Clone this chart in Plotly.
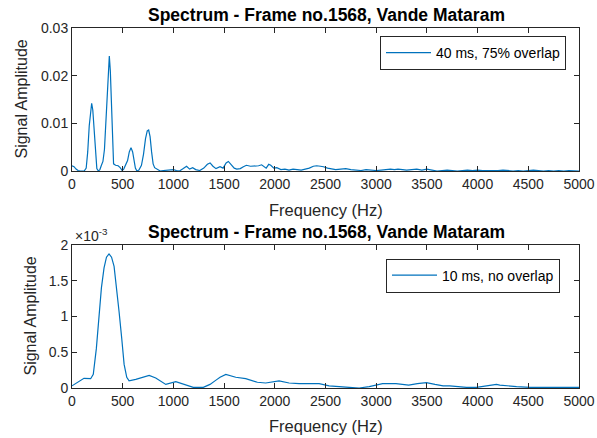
import plotly.graph_objects as go

# ---- data: top panel (40 ms, 75% overlap) ----
freq_top = [0, 20, 40, 60, 80, 100, 120, 140, 155, 170, 185, 194, 205, 218, 232, 245, 260, 275, 290, 305,
            320, 335, 350, 362, 368, 378, 390, 400, 410, 430, 455, 475, 495, 510, 530, 548, 565, 582, 598, 612,
            625, 640, 660, 685, 705, 725, 742, 756, 770, 785, 800, 815, 835, 850, 870, 900, 950, 1000, 1030, 1060,
            1090, 1130, 1160, 1190, 1220, 1260, 1300, 1335, 1362, 1390, 1420, 1460, 1490, 1520, 1542, 1570, 1600, 1625, 1660, 1690,
            1720, 1760, 1800, 1840, 1870, 1900, 1915, 1940, 1960, 1990, 2020, 2060, 2100, 2140, 2180, 2220, 2260, 2300, 2340, 2380,
            2413, 2450, 2480, 2520, 2560, 2600, 2650, 2700, 2750, 2800, 2850, 2900, 2950, 3000, 3050, 3100, 3140, 3180, 3215, 3260,
            3300, 3350, 3400, 3450, 3500, 3550, 3600, 3650, 3700, 3750, 3800, 3850, 3900, 3950, 4000, 4050, 4100, 4150, 4200, 4250,
            4300, 4350, 4400, 4450, 4500, 4550, 4600, 4650, 4700, 4750, 4800, 4850, 4900, 4950, 5000]
amp_top = [0.0011, 0.0009, 0.0004, 0.0001, 0.0, 0.0, 0.0, 0.0006, 0.004, 0.0095, 0.0135, 0.0142, 0.0128, 0.008, 0.003, 0.0005, 0.0, 0.0003, 0.0012, 0.002,
           0.0045, 0.011, 0.019, 0.0235, 0.0241, 0.021, 0.012, 0.0045, 0.0015, 0.0012, 0.0011, 0.0007, 0.0001, 0.0004, 0.0013, 0.0022, 0.0040, 0.0049, 0.0040, 0.002,
           0.0006, 0.0, 0.0002, 0.0012, 0.0035, 0.0068, 0.0084, 0.0086, 0.0072, 0.004, 0.0015, 0.0007, 0.0005, 0.0002, 0.0, 0.0001, 0.0002, 0.0003, 0.0001, 0.0,
           0.0004, 0.001, 0.0004, 0.0007, 0.0003, 0.0001, 0.0006, 0.0014, 0.0017, 0.001, 0.0005, 0.0009, 0.0006, 0.0017, 0.002, 0.0014, 0.0006, 0.0004, 0.0005, 0.0009,
           0.0012, 0.001, 0.001, 0.0011, 0.0013, 0.0008, 0.0006, 0.0014, 0.0012, 0.0006, 0.0007, 0.0003, 0.0004, 0.0002, 0.0004, 0.0003, 0.0002, 0.0004, 0.0006, 0.001,
           0.0011, 0.001, 0.0009, 0.0006, 0.0004, 0.0003, 0.0004, 0.0005, 0.0003, 0.0002, 0.0001, 0.0003, 0.0002, 0.0001, 0.0002, 0.0003, 0.0004, 0.0003, 0.0004, 0.0003,
           0.0002, 0.0003, 0.0004, 0.0002, 0.0004, 0.0002, 0.0, 0.0001, 0.0002, 0.0001, 0.0, 0.0001, 0.0002, 0.0001, 0.0002, 0.0001, 0.0001, 0.0, 0.0001, 0.0002,
           0.0001, 0.0, 0.0001, 0.0, 0.0001, 0.0002, 0.0001, 0.0, 0.0001, 0.0, 0.0001, 0.0, 0.0001, 0.0, 0.0]

# ---- data: bottom panel (10 ms, no overlap) ----
freq_bot = [0, 60, 118, 184, 210, 240, 267, 290, 316, 340, 365, 390, 415, 440, 464, 490, 514, 540, 563, 629,
            700, 761, 826, 925, 1024, 1107, 1196, 1295, 1361, 1420, 1460, 1517, 1615, 1713, 1828, 1910, 1959, 2042, 2141, 2240,
            2437, 2536, 2733, 2832, 2931, 3063, 3195, 3294, 3320, 3406, 3495, 3580, 3660, 3725, 3791, 3890, 3989, 4100, 4186, 4219,
            4351, 4384, 4516, 4549, 4650, 4780, 4812, 4900, 5000]
amp_bot = [0.00003, 0.00008, 0.000135, 0.00013, 0.00019, 0.00055, 0.00107, 0.0014, 0.00168, 0.00183, 0.001875, 0.00183, 0.0017, 0.0014, 0.00107, 0.0007, 0.00033, 0.00015, 0.0001, 0.00012,
            0.00015, 0.000177, 0.00014, 0.00005, 0.00009, 0.00005, 0.00001, 0.00001, 0.00005, 0.00011, 0.00015, 0.00019, 0.00015, 0.00013, 0.00008, 0.00007, 0.00008, 0.0001, 0.00007, 0.00006,
            0.00006, 0.00003, 0.00001, 0.0, 0.00002, 0.00006, 0.00006, 0.00005, 0.00004, 0.00006, 0.000075, 0.00005, 0.00003, 0.00003, 0.00002, 0.00001, 0.00001, 0.00003, 0.00005, 0.00004,
            0.00002, 0.00002, 0.00001, 0.00001, 0.00001, 0.00001, 0.00001, 0.00001, 0.00001]

x_ticks = [0, 500, 1000, 1500, 2000, 2500, 3000, 3500, 4000, 4500, 5000]
y_ticks_top = [0, 0.01, 0.02, 0.03]
y_ticks_bot = [0, 0.0005, 0.001, 0.0015, 0.002]
y_ticktext_bot = ["0", "0.5", "1", "1.5", "2"]

title_text = "Spectrum - Frame no.1568, Vande Mataram"
xlabel = "Frequency (Hz)"
ylabel = "Signal Amplitude"

W, H = 597, 438
LINE = "#0072BD"
AX = "#262626"
FONT = "Liberation Sans, Arial, sans-serif"

def px(x):
    return x / W

def py(y):
    return 1 - y / H

fig = go.Figure()
fig.add_trace(go.Scatter(x=freq_top, y=amp_top, mode="lines", name="40 ms, 75% overlap",
                         line=dict(color=LINE, width=1.2), xaxis="x", yaxis="y", legend="legend"))
fig.add_trace(go.Scatter(x=freq_bot, y=amp_bot, mode="lines", name="10 ms, no overlap",
                         line=dict(color=LINE, width=1.2), xaxis="x2", yaxis="y2", legend="legend2"))

axis_common = dict(showline=True, mirror="ticks", linecolor=AX, linewidth=1, ticks="inside",
                   ticklen=5, tickcolor=AX, tickwidth=1, showgrid=False, zeroline=False,
                   automargin=False, tickfont=dict(family=FONT, size=14, color=AX))

leg_common = dict(xanchor="left", yanchor="top", bordercolor=AX, borderwidth=1, bgcolor="white",
                  itemwidth=45, tracegroupgap=0, font=dict(family=FONT, size=14, color="black"))

fig.update_layout(
    width=W, height=H, margin=dict(l=0, r=0, t=0, b=0, autoexpand=False),
    paper_bgcolor="white", plot_bgcolor="white",
    xaxis=dict(domain=[px(72), px(579)], anchor="y", range=[0, 5000], tickvals=x_ticks, **axis_common),
    yaxis=dict(domain=[py(171), py(28)], anchor="x", range=[0, 0.03], tickvals=y_ticks_top, **axis_common),
    xaxis2=dict(domain=[px(72), px(579)], anchor="y2", range=[0, 5000], tickvals=x_ticks, **axis_common),
    yaxis2=dict(domain=[py(388), py(245)], anchor="x2", range=[0, 0.002], tickvals=y_ticks_bot,
                ticktext=y_ticktext_bot, **axis_common),
    legend=dict(x=px(380), y=py(36), **leg_common),
    legend2=dict(x=px(386), y=py(258.5), **leg_common),
    showlegend=True,
)

ann = []
for yc in (15.5, 232):
    ann.append(dict(text="<b>" + title_text + "</b>", x=px(326), y=py(yc), xref="paper", yref="paper",
                    xanchor="center", yanchor="middle", showarrow=False,
                    font=dict(family=FONT, size=17.5, color="black")))
for yc in (210, 426):
    ann.append(dict(text=xlabel, x=px(326), y=py(yc), xref="paper", yref="paper",
                    xanchor="center", yanchor="middle", showarrow=False,
                    font=dict(family=FONT, size=16.5, color=AX)))
for xc, yc in ((21, 99.5), (30, 316.5)):
    ann.append(dict(text=ylabel, x=px(xc), y=py(yc), xref="paper", yref="paper", textangle=-90,
                    xanchor="center", yanchor="middle", showarrow=False,
                    font=dict(family=FONT, size=16, color=AX)))
ann.append(dict(text="×10<sup>-3</sup>", x=px(73), y=py(246), xref="paper", yref="paper",
                xanchor="left", yanchor="bottom", showarrow=False,
                font=dict(family=FONT, size=14, color=AX)))
fig.update_layout(annotations=ann)

fig.write_html("out.html", config={"displayModeBar": False},
               post_script="document.body.style.margin='0';")
